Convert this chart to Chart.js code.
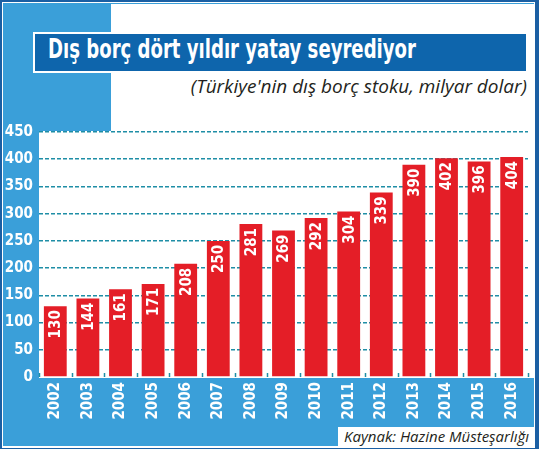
<!DOCTYPE html>
<html>
<head>
<meta charset="utf-8">
<script src="https://cdn.jsdelivr.net/npm/chart.js@4"></script>
<style>
  html, body { margin: 0; padding: 0; }
  body { width: 539px; height: 449px; overflow: hidden; }
  #frame { position: relative; width: 539px; height: 449px; background: #1b5fa3; }
  .abs { position: absolute; }
  #lineW { left: 2px; top: 2px; width: 533px; height: 446px; background: #fff; }
  #blue { left: 3px; top: 3px; width: 531px; height: 443px; background: #3a9fd9; }
  #panel { left: 111px; top: 4px; width: 423px; height: 374px; background: #fff; }
  #plotBg { left: 39px; top: 131px; width: 495px; height: 247px; background: #fff; }
  #titleBar { left: 33px; top: 32px; width: 495px; height: 41px; box-sizing: border-box;
    border: 2px solid #fff; background: #0e65ac; overflow: hidden; }
  #title { position: absolute; left: 13px; top: 0; line-height: 37px; white-space: nowrap;
    color: #fff; font: bold 26px 'Liberation Sans Narrow', 'DejaVu Sans Condensed', sans-serif;
    transform-origin: 0 50%; }
  #subtitle { right: 12px; top: 73px; white-space: nowrap; color: #231f20;
    font: italic 19px 'Open Sans', 'Noto Sans', sans-serif; }
  #srcBox { left: 338px; top: 427px; width: 196px; height: 19px; background: #fff; }
  #src { left: 344px; top: 426px; white-space: nowrap; color: #231f20;
    font: italic 15px 'Open Sans', 'Noto Sans', sans-serif; line-height: 20px; }
  canvas { position: absolute; left: 0; top: 0; }
</style>
</head>
<body>
<div id="frame">
  <div class="abs" id="lineW"></div>
  <div class="abs" id="blue"></div>
  <div class="abs" id="panel"></div>
  <div class="abs" id="plotBg"></div>
  <div class="abs" id="titleBar"><span id="title">Dış borç dört yıldır yatay seyrediyor</span></div>
  <div class="abs" id="subtitle">(Türkiye'nin dış borç stoku, milyar dolar)</div>
  <div class="abs" id="srcBox"></div>
  <div class="abs" id="src">Kaynak: Hazine Müsteşarlığı</div>
  <canvas id="chart" width="539" height="449"></canvas>
</div>
<script>
// ── Data ──────────────────────────────────────────────────────────────────
const years = ['2002', '2003', '2004', '2005', '2006', '2007', '2008', '2009',
               '2010', '2011', '2012', '2013', '2014', '2015', '2016'];
const debt = [130, 144, 161, 171, 208, 250, 281, 269, 292, 304, 339, 390, 402, 396, 404];
const yTicks = [0, 50, 100, 150, 200, 250, 300, 350, 400, 450];

// ── Look ──────────────────────────────────────────────────────────────────
const NARROW = "'Liberation Sans Narrow', 'DejaVu Sans Condensed', sans-serif";
const TEAL = '#1f8ea6';
const RED = '#e41e27';

// squeeze the headline into the same width as the print version
const title = document.getElementById('title');
title.style.transform = 'scaleX(' + (368 / title.offsetWidth) + ')';

// value written upright inside the top of each bar
const barLabels = {
  id: 'barLabels',
  afterDatasetsDraw(chart) {
    const ctx = chart.ctx;
    const meta = chart.getDatasetMeta(0);
    ctx.save();
    ctx.fillStyle = '#fff';
    ctx.font = 'bold 15px ' + NARROW;
    ctx.textAlign = 'right';
    ctx.textBaseline = 'middle';
    meta.data.forEach((bar, i) => {
      ctx.save();
      ctx.translate(bar.x, bar.y + 4);
      ctx.rotate(-Math.PI / 2);
      ctx.fillText(String(debt[i]), 0, 1);
      ctx.restore();
    });
    ctx.restore();
  }
};

// short teal marks standing up on the baseline between the bars
const baseTicks = {
  id: 'baseTicks',
  beforeDatasetsDraw(chart) {
    const { ctx, chartArea } = chart;
    const step = (chartArea.right - chartArea.left) / years.length;
    ctx.save();
    ctx.strokeStyle = TEAL;
    ctx.lineWidth = 1.5;
    for (let i = 0; i <= years.length; i++) {
      const x = Math.round(chartArea.left + i * step) + 0.5;
      ctx.beginPath();
      ctx.moveTo(x, chartArea.bottom);
      ctx.lineTo(x, chartArea.bottom - 4);
      ctx.stroke();
    }
    ctx.restore();
  }
};

new Chart(document.getElementById('chart').getContext('2d'), {
  type: 'bar',
  data: {
    labels: years,
    datasets: [{
      data: debt,
      backgroundColor: RED,
      borderWidth: 0,
      barPercentage: 0.7,
      categoryPercentage: 1
    }]
  },
  options: {
    responsive: false,
    animation: false,
    layout: { padding: { left: 0, top: 132, right: 11, bottom: 0 } },
    plugins: { legend: { display: false }, tooltip: { enabled: false } },
    scales: {
      x: {
        afterFit: (s) => { s.height = 72; },
        grid: { display: false, drawTicks: false },
        border: { display: false },
        ticks: {
          color: '#fff',
          font: { family: NARROW, size: 15, weight: 'bold' },
          minRotation: 90,
          maxRotation: 90,
          padding: 5,
          autoSkip: false
        }
      },
      y: {
        min: 0,
        max: 450,
        afterFit: (s) => { s.width = 39; },
        afterBuildTicks: (s) => { s.ticks = yTicks.map(v => ({ value: v })); },
        grid: {
          drawTicks: false,
          color: (c) => c.tick && c.tick.value === 0 ? 'rgba(0,0,0,0)' : TEAL,
          lineWidth: 1.6
        },
        border: { display: false, dash: [4, 2] },
        ticks: {
          color: '#fff',
          font: { family: NARROW, size: 15, weight: 'bold' },
          padding: 6
        }
      }
    }
  },
  plugins: [baseTicks, barLabels]
});
</script>
</body>
</html>
